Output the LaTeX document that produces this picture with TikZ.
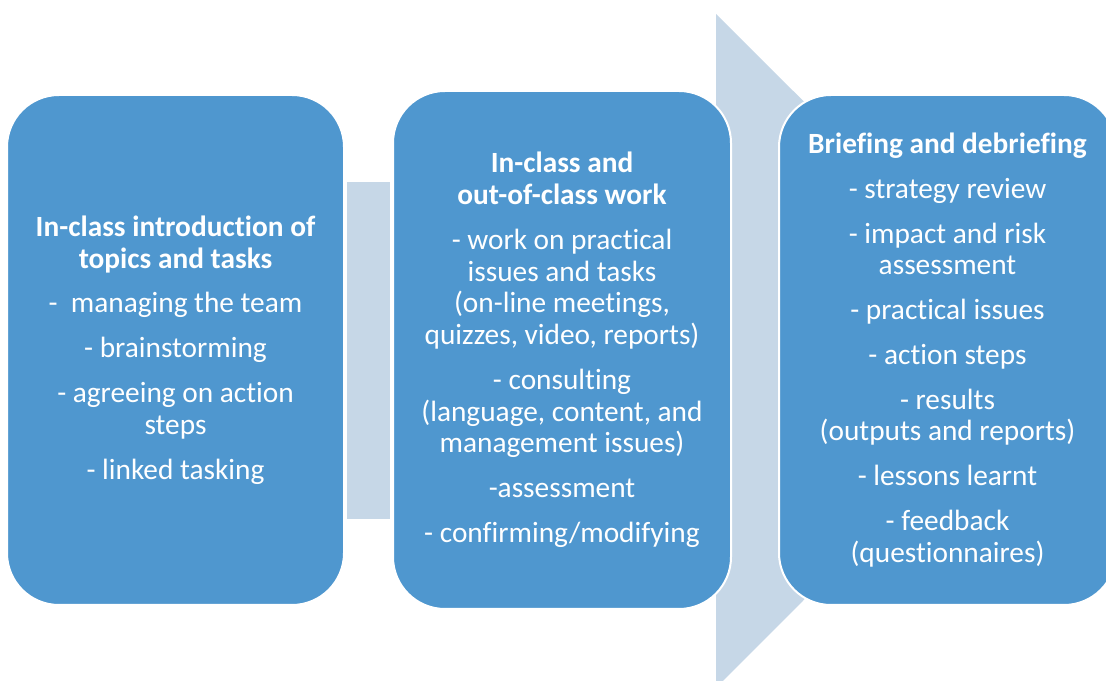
\documentclass[tikz,border=0pt]{standalone}
\usepackage{fontspec}
\setmainfont{Carlito}[Ligatures=NoCommon]
\usepackage{tikz}
\usetikzlibrary{calc}
\definecolor{stageblue}{HTML}{4F97CF}
\definecolor{flowgrey}{HTML}{C6D7E7}

% gap between two items of one stage
\newcommand{\itemgap}{\\[9.8pt]}

\begin{document}
\begin{tikzpicture}[x=0.75pt, y=0.75pt,
    % Stage boxes: blue rounded blocks with white text and a thin white rim.
    stagebox/.style={rectangle, fill=stageblue, draw=white, line width=1.5pt,
                     rounded corners=39pt, inner sep=0pt, align=center,
                     text=white, font=\fontsize{22}{23.8}\selectfont},
    % Light bar that joins the first two stages.
    linkbar/.style={fill=flowgrey},
    % Large background arrow behind the last two stages.
    flowarrow/.style={fill=flowgrey}
]
    \useasboundingbox (0,0) rectangle (1106,681);
    \clip (0,0) rectangle (1106,681);

    % === Background arrow ===
    % Its tip lies behind the last stage box.
    \coordinate (arrowtop) at (716,667);
    \coordinate (arrowbot) at (716,-7);
    \coordinate (arrowtip) at (1053,331);
    \fill[flowarrow] (arrowtop) -- (arrowtip) -- (arrowbot) -- cycle;

    % === Stages ===
    \node[stagebox, minimum width=252.75pt, minimum height=382.5pt]
        (intro) at (175.5,331)
        {\textbf{In-class introduction of}\\
         \textbf{topics and tasks}\itemgap
         -\ \ managing the team\itemgap
         - brainstorming\itemgap
         - agreeing on action\\ steps\itemgap
         - linked tasking};

    \node[stagebox, minimum width=253.5pt, minimum height=388.5pt]
        (work) at (562,331)
        {\textbf{In-class and}\\
         \textbf{out-of-class work}\itemgap
         - work on practical\\ issues and tasks\\
         (on-line meetings,\\ quizzes, video, reports)\itemgap
         - consulting\\ (language, content, and\\ management issues)\itemgap
         -assessment\itemgap
         - confirming/modifying};

    \node[stagebox, minimum width=252.75pt, minimum height=382.5pt]
        (debrief) at (947.5,331)
        {\textbf{Briefing and debriefing}\itemgap
         - strategy review\itemgap
         - impact and risk\\ assessment\itemgap
         - practical issues\itemgap
         - action steps\itemgap
         - results\\ (outputs and reports)\itemgap
         - lessons learnt\itemgap
         - feedback\\ (questionnaires)};

    % === Link between the first two stages ===
    \fill[linkbar] ($(intro.east)+(2,168)$) rectangle ($(work.west)+(-2,-169)$);

\end{tikzpicture}
\end{document}
